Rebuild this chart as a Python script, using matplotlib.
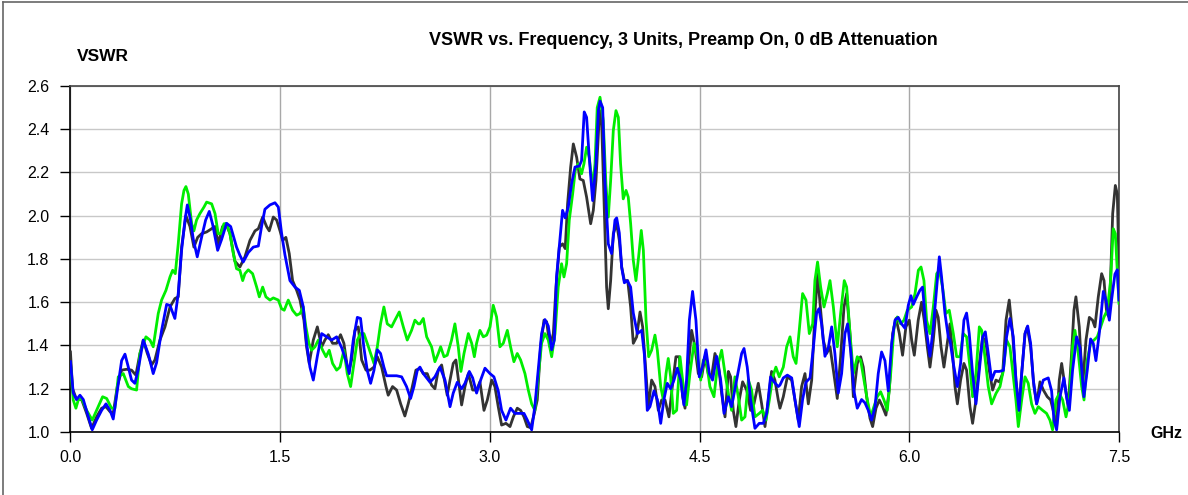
import matplotlib.pyplot as plt
import numpy as np

plt.rcParams['font.family'] = ['Liberation Sans', 'DejaVu Sans']

title = 'VSWR vs. Frequency, 3 Units, Preamp On, 0 dB Attenuation'
x_ticks = [0.0, 1.5, 3.0, 4.5, 6.0, 7.5]
y_ticks = [1.0, 1.2, 1.4, 1.6, 1.8, 2.0, 2.2, 2.4, 2.6]

# unit 1 (dark gray)
f_black = [0.0, 0.015, 0.044, 0.080, 0.116, 0.151, 0.187, 0.223, 0.254, 0.283, 0.306, 0.335, 0.366, 0.402,
           0.437, 0.468, 0.497, 0.521, 0.550, 0.581, 0.604, 0.640, 0.676, 0.712, 0.747, 0.771, 0.795, 0.826,
           0.855, 0.883, 0.910, 0.938, 0.974, 1.010, 1.034, 1.057, 1.088, 1.112, 1.141, 1.176,
           1.212, 1.248, 1.284, 1.320, 1.344, 1.375, 1.403, 1.422, 1.451, 1.475, 1.499, 1.518, 1.541, 1.565,
           1.589, 1.618, 1.642, 1.670, 1.689, 1.708, 1.737, 1.766, 1.797, 1.820, 1.844, 1.875, 1.904, 1.932,
           1.956, 1.987, 2.011, 2.035, 2.059, 2.083, 2.114, 2.142, 2.171, 2.195, 2.226, 2.257, 2.273, 2.304,
           2.333, 2.362, 2.392, 2.416, 2.440, 2.471,
           2.500, 2.524, 2.552, 2.583, 2.607, 2.631, 2.655, 2.679, 2.695, 2.715, 2.738, 2.757, 2.781, 2.798,
           2.822, 2.846, 2.877, 2.905, 2.929, 2.958, 2.982, 3.013, 3.036, 3.060, 3.084, 3.115, 3.144, 3.168,
           3.196, 3.220, 3.244, 3.268, 3.292, 3.315, 3.339, 3.363, 3.387, 3.406, 3.430, 3.454, 3.473, 3.497,
           3.520, 3.539, 3.556, 3.578, 3.597, 3.621, 3.644, 3.668, 3.692, 3.721, 3.740, 3.759, 3.780,
           3.788, 3.800, 3.816, 3.835, 3.847, 3.864, 3.883, 3.907, 3.926, 3.943, 3.962, 3.986, 4.007, 4.026,
           4.050, 4.074, 4.093, 4.117, 4.133, 4.157, 4.181, 4.205, 4.229, 4.253, 4.281, 4.305, 4.331, 4.355,
           4.379, 4.396, 4.419, 4.443, 4.467, 4.491, 4.515, 4.539, 4.562, 4.586, 4.610, 4.634, 4.658, 4.682,
           4.706, 4.722, 4.741, 4.760, 4.784, 4.808, 4.837, 4.865, 4.889, 4.920, 4.944, 4.968, 4.992, 5.015,
           5.039, 5.063,
           5.075, 5.099, 5.128, 5.159, 5.182, 5.206, 5.230, 5.254, 5.278, 5.302, 5.325, 5.344, 5.366, 5.385,
           5.409, 5.433, 5.457, 5.485, 5.509, 5.533, 5.552, 5.576, 5.600, 5.628, 5.652, 5.671, 5.695, 5.719,
           5.738, 5.762, 5.786, 5.809, 5.833, 5.857, 5.881, 5.905, 5.929, 5.952, 5.976, 6.000, 6.017, 6.036,
           6.064, 6.088, 6.107, 6.129, 6.148, 6.172, 6.191, 6.207, 6.227, 6.248, 6.272,
           6.291, 6.310, 6.327, 6.344, 6.367, 6.391, 6.410, 6.434, 6.453, 6.477, 6.501, 6.525, 6.549, 6.572,
           6.596, 6.620, 6.644, 6.668, 6.692, 6.715, 6.739, 6.763, 6.785, 6.804, 6.828, 6.844, 6.868, 6.892,
           6.911, 6.935, 6.959, 6.987, 7.011, 7.035, 7.054, 7.073, 7.090, 7.114, 7.137, 7.161, 7.178, 7.192,
           7.216, 7.240, 7.264, 7.288, 7.311, 7.328, 7.352, 7.376, 7.393, 7.412, 7.431, 7.455, 7.474, 7.488,
           7.497, 7.5]
v_black = [1.37, 1.20, 1.15, 1.15, 1.086, 1.017, 1.07, 1.11, 1.117, 1.094, 1.086, 1.21, 1.286, 1.29,
           1.286, 1.263, 1.363, 1.425, 1.363, 1.31, 1.333, 1.425, 1.486, 1.578, 1.617, 1.625, 1.855, 2.00,
           1.95, 1.855, 1.90, 1.917, 1.925, 1.94, 1.95, 1.87, 1.95, 1.963, 1.917, 1.79,
           1.763, 1.81, 1.886, 1.93, 1.94, 1.994, 1.95, 1.93, 1.994, 1.98, 1.93, 1.886, 1.90, 1.825,
           1.70, 1.655, 1.61, 1.517, 1.394, 1.317, 1.425, 1.486, 1.394, 1.425, 1.45, 1.41, 1.41, 1.45,
           1.41, 1.27, 1.333, 1.47, 1.486, 1.333, 1.286, 1.286, 1.30, 1.348, 1.30, 1.21, 1.17, 1.21,
           1.194, 1.13, 1.074, 1.13, 1.194, 1.286,
           1.294, 1.27, 1.27, 1.217, 1.20, 1.286, 1.31, 1.225, 1.17, 1.24, 1.317, 1.333, 1.21, 1.125,
           1.21, 1.27, 1.194, 1.194, 1.232, 1.10, 1.148, 1.24, 1.21, 1.117, 1.032, 1.04, 1.025, 1.07,
           1.11, 1.10, 1.07, 1.025, 1.02, 1.078, 1.148, 1.394, 1.517, 1.51, 1.394, 1.455, 1.67, 1.855,
           1.87, 1.848, 2.055, 2.225, 2.332, 2.27, 2.17, 2.163, 2.086, 1.963, 2.025, 2.163, 2.425,
           2.486, 2.42, 2.086, 1.67, 1.57, 1.70, 1.917, 1.963, 1.886, 1.763, 1.70, 1.70, 1.578, 1.41,
           1.44, 1.555, 1.486, 1.27, 1.117, 1.24, 1.21, 1.10, 1.148, 1.148, 1.07, 1.21, 1.348, 1.348,
           1.163, 1.11, 1.30, 1.47, 1.394, 1.27, 1.255, 1.348, 1.27, 1.255, 1.363, 1.317, 1.178, 1.07,
           1.28, 1.255, 1.10, 1.025, 1.148, 1.232, 1.194, 1.10, 1.13, 1.225, 1.13, 1.025, 1.148, 1.28,
           1.24, 1.148,
           1.11, 1.163, 1.255, 1.24, 1.148, 1.055, 1.21, 1.27, 1.13, 1.24, 1.55, 1.73, 1.563, 1.425,
           1.363, 1.394, 1.286, 1.155, 1.348, 1.578, 1.64, 1.455, 1.163, 1.317, 1.348, 1.30, 1.163, 1.063,
           1.025, 1.11, 1.148, 1.117, 1.078, 1.194, 1.455, 1.525, 1.455, 1.355, 1.486, 1.517, 1.425, 1.355,
           1.517, 1.60, 1.517, 1.394, 1.30, 1.425, 1.563, 1.53, 1.394, 1.30, 1.41,
           1.50, 1.363, 1.21, 1.13, 1.24, 1.317, 1.286, 1.117, 1.04, 1.148, 1.317, 1.44, 1.41, 1.286,
           1.194, 1.24, 1.232, 1.27, 1.517, 1.61, 1.455, 1.24, 1.10, 1.27, 1.455, 1.486, 1.394, 1.21,
           1.13, 1.232, 1.194, 1.163, 1.148, 1.086, 1.025, 1.24, 1.317, 1.21, 1.117, 1.363, 1.563, 1.625,
           1.486, 1.21, 1.425, 1.53, 1.517, 1.486, 1.625, 1.732, 1.70, 1.55, 1.53, 2.01, 2.14, 2.10,
           1.855, 1.763]

# unit 2 (green)
f_green = [0.0, 0.020, 0.039, 0.056, 0.080, 0.116, 0.156, 0.187, 0.230, 0.259, 0.294, 0.318, 0.342, 0.378,
           0.414, 0.437, 0.473, 0.497, 0.540, 0.569, 0.592, 0.628, 0.652, 0.683, 0.712, 0.731, 0.750, 0.771,
           0.795, 0.812, 0.826, 0.843, 0.867, 0.883, 0.902, 0.926, 0.955, 0.974, 1.010, 1.034, 1.057, 1.076,
           1.098, 1.117, 1.141, 1.165, 1.188,
           1.212, 1.232, 1.248, 1.272, 1.303, 1.332, 1.351, 1.375, 1.398, 1.427, 1.451, 1.487, 1.510, 1.529,
           1.558, 1.589, 1.618, 1.642, 1.665, 1.684, 1.706, 1.725, 1.749, 1.773, 1.804, 1.828, 1.851, 1.875,
           1.904, 1.928, 1.956, 1.980, 2.004, 2.028, 2.052, 2.075, 2.099, 2.123, 2.147, 2.171, 2.195, 2.218,
           2.242, 2.266, 2.297, 2.321, 2.352, 2.381, 2.409, 2.440, 2.464, 2.488,
           2.500, 2.524, 2.548, 2.583, 2.607, 2.631, 2.648, 2.672, 2.695, 2.726, 2.750, 2.774, 2.793, 2.815,
           2.846, 2.870, 2.889, 2.905, 2.929, 2.953, 2.977, 3.001, 3.024, 3.048, 3.072, 3.096, 3.125, 3.148,
           3.172, 3.196, 3.220, 3.251, 3.275, 3.299, 3.322, 3.346, 3.370, 3.394, 3.418, 3.442, 3.466, 3.489,
           3.513, 3.530, 3.549, 3.568, 3.592, 3.611, 3.632, 3.656, 3.673, 3.692, 3.711, 3.735, 3.752, 3.768,
           3.788, 3.811, 3.830, 3.847, 3.864, 3.883, 3.902, 3.919, 3.935, 3.954, 3.974, 3.990, 4.007, 4.026,
           4.045, 4.064, 4.083, 4.098, 4.117, 4.136, 4.157, 4.181, 4.198, 4.222, 4.241, 4.260, 4.276, 4.293,
           4.312, 4.336, 4.360, 4.384, 4.407, 4.431, 4.460, 4.484, 4.508, 4.527, 4.551, 4.574, 4.603, 4.627,
           4.658, 4.682, 4.706, 4.729, 4.753, 4.777, 4.801, 4.825, 4.849, 4.872, 4.896, 4.927, 4.951, 4.975,
           4.999, 5.023, 5.046, 5.070,
           5.099, 5.123, 5.147, 5.170, 5.190, 5.213, 5.237, 5.261, 5.285, 5.309, 5.325, 5.344, 5.366,
           5.390, 5.414, 5.433, 5.457, 5.485, 5.509, 5.535, 5.552, 5.576, 5.600, 5.628, 5.652, 5.676, 5.700,
           5.724, 5.747, 5.771, 5.795, 5.819, 5.843, 5.867, 5.891, 5.914, 5.938, 5.962, 5.986, 6.017, 6.041,
           6.065, 6.084, 6.105, 6.124, 6.148, 6.172, 6.196, 6.215, 6.238, 6.262, 6.286,
           6.315, 6.339, 6.363, 6.386, 6.410, 6.434, 6.453, 6.477, 6.501, 6.518, 6.541, 6.565, 6.589,
           6.620, 6.649, 6.673, 6.696, 6.720, 6.744, 6.763, 6.780, 6.804, 6.828, 6.851, 6.875, 6.899, 6.923,
           6.954, 6.982, 7.006, 7.025, 7.049, 7.073, 7.097, 7.121, 7.145, 7.168, 7.185, 7.209, 7.233, 7.250,
           7.273, 7.297, 7.321, 7.345, 7.369, 7.393, 7.416, 7.440, 7.459, 7.474, 7.488, 7.5]
v_green = [1.317, 1.148, 1.11, 1.148, 1.155, 1.10, 1.055, 1.10, 1.163, 1.155, 1.11, 1.11, 1.255, 1.27,
           1.21, 1.20, 1.194, 1.363, 1.44, 1.425, 1.394, 1.548, 1.61, 1.655, 1.717, 1.748, 1.732, 1.87,
           2.055, 2.117, 2.135, 2.10, 1.963, 1.93, 1.98, 2.01, 2.04, 2.063, 2.055, 2.01, 1.917, 1.917,
           1.963, 1.963, 1.917, 1.825, 1.755,
           1.748, 1.70, 1.732, 1.75, 1.732, 1.67, 1.625, 1.67, 1.625, 1.61, 1.62, 1.61, 1.57, 1.563,
           1.61, 1.563, 1.54, 1.548, 1.578, 1.486, 1.41, 1.378, 1.394, 1.425, 1.378, 1.348, 1.378, 1.317,
           1.286, 1.30, 1.378, 1.27, 1.21, 1.317, 1.425, 1.455, 1.455, 1.41, 1.363, 1.317, 1.394, 1.50,
           1.578, 1.50, 1.486, 1.517, 1.555, 1.486, 1.425, 1.47, 1.517, 1.50,
           1.50, 1.525, 1.44, 1.394, 1.325, 1.363, 1.394, 1.348, 1.355, 1.425, 1.50, 1.394, 1.28, 1.363,
           1.455, 1.41, 1.348, 1.41, 1.47, 1.44, 1.448, 1.486, 1.586, 1.532, 1.394, 1.41, 1.47, 1.394,
           1.325, 1.363, 1.333, 1.27, 1.194, 1.13, 1.10, 1.255, 1.41, 1.455, 1.425, 1.348, 1.455, 1.67,
           1.778, 1.717, 1.778, 1.98, 2.10, 2.21, 2.24, 2.194, 2.24, 2.317, 2.27, 2.13, 2.24, 2.50,
           2.548, 2.44, 2.148, 1.994, 2.163, 2.394, 2.486, 2.455, 2.24, 2.078, 2.117, 2.086, 1.963, 1.794,
           1.70, 1.81, 1.932, 1.84, 1.517, 1.348, 1.378, 1.448, 1.378, 1.21, 1.148, 1.27, 1.34, 1.255,
           1.086, 1.10, 1.348, 1.21, 1.125, 1.27, 1.41, 1.348, 1.24, 1.333, 1.317, 1.21, 1.163, 1.30,
           1.378, 1.27, 1.178, 1.10, 1.255, 1.163, 1.055, 1.07, 1.24, 1.194, 1.07, 1.086, 1.10, 1.055,
           1.148, 1.255, 1.30, 1.255,
           1.30, 1.394, 1.44, 1.348, 1.317, 1.47, 1.64, 1.61, 1.455, 1.50, 1.70, 1.786, 1.67,
           1.578, 1.64, 1.70, 1.578, 1.394, 1.548, 1.70, 1.67, 1.455, 1.27, 1.348, 1.333, 1.24, 1.148,
           1.07, 1.117, 1.163, 1.186, 1.148, 1.10, 1.27, 1.486, 1.532, 1.50, 1.517, 1.563, 1.578, 1.64,
           1.748, 1.763, 1.70, 1.517, 1.455, 1.578, 1.732, 1.748, 1.67, 1.548, 1.563,
           1.455, 1.348, 1.348, 1.455, 1.44, 1.30, 1.163, 1.27, 1.486, 1.47, 1.348, 1.21, 1.13,
           1.178, 1.21, 1.286, 1.425, 1.394, 1.255, 1.148, 1.025, 1.148, 1.255, 1.225, 1.13, 1.086, 1.117,
           1.10, 1.086, 1.055, 1.01, 1.148, 1.178, 1.148, 1.07, 1.148, 1.394, 1.47, 1.363, 1.21, 1.148,
           1.333, 1.41, 1.425, 1.44, 1.486, 1.532, 1.563, 1.70, 1.94, 1.917, 1.74, 1.595]

# unit 3 (blue)
f_blue = [0.0, 0.020, 0.044, 0.068, 0.092, 0.128, 0.156, 0.187, 0.223, 0.254, 0.283, 0.306, 0.335, 0.366,
          0.390, 0.414, 0.437, 0.461, 0.485, 0.521, 0.557, 0.592, 0.616, 0.652, 0.688, 0.712, 0.747, 0.771,
          0.795, 0.819, 0.836, 0.859, 0.879, 0.907, 0.938, 0.967, 0.993, 1.017, 1.053, 1.081, 1.117, 1.146,
          1.188,
          1.212, 1.236, 1.272, 1.308, 1.344, 1.367, 1.391, 1.427, 1.463, 1.487, 1.510, 1.534, 1.570, 1.606,
          1.637, 1.665, 1.689, 1.713, 1.737, 1.766, 1.797, 1.832, 1.868, 1.904, 1.940, 1.971, 1.994, 2.023,
          2.052, 2.075, 2.099, 2.123, 2.147, 2.171, 2.195, 2.218, 2.242, 2.261, 2.297, 2.333, 2.369, 2.404,
          2.433, 2.457, 2.481,
          2.500, 2.524, 2.572, 2.607, 2.643, 2.679, 2.715, 2.738, 2.767, 2.798, 2.822, 2.853, 2.877, 2.905,
          2.934, 2.965, 3.001, 3.029, 3.060, 3.084, 3.115, 3.148, 3.179, 3.210, 3.244, 3.268, 3.299, 3.322,
          3.346, 3.370, 3.394, 3.418, 3.442, 3.461, 3.477, 3.501, 3.520, 3.539, 3.561, 3.585, 3.609, 3.640,
          3.656, 3.675, 3.692, 3.711, 3.735, 3.759, 3.776,
          3.788, 3.807, 3.823, 3.847, 3.871, 3.895, 3.907, 3.926, 3.943, 3.962, 3.983, 4.007, 4.026, 4.055,
          4.086, 4.105, 4.126, 4.145, 4.174, 4.198, 4.222, 4.245, 4.269, 4.293, 4.317, 4.341, 4.365, 4.388,
          4.407, 4.427, 4.450, 4.474, 4.498, 4.520, 4.546, 4.570, 4.593, 4.622, 4.651, 4.675, 4.706, 4.729,
          4.765, 4.801, 4.818, 4.841, 4.865, 4.896, 4.927, 4.956, 4.980, 5.008, 5.032, 5.063,
          5.075, 5.099, 5.128, 5.159, 5.182, 5.213, 5.237, 5.261, 5.290, 5.314, 5.337, 5.354, 5.373, 5.397,
          5.421, 5.445, 5.468, 5.492, 5.516, 5.540, 5.559, 5.583, 5.604, 5.628, 5.659, 5.683, 5.707, 5.731,
          5.755, 5.778, 5.802, 5.826, 5.850, 5.874, 5.898, 5.921, 5.945, 5.969, 5.993, 6.012, 6.029, 6.053,
          6.076, 6.095, 6.119, 6.148, 6.172, 6.196, 6.215, 6.231, 6.255, 6.279,
          6.291, 6.315, 6.344, 6.367, 6.391, 6.410, 6.429, 6.453, 6.477, 6.501, 6.525, 6.544, 6.565, 6.589,
          6.613, 6.644, 6.673, 6.696, 6.720, 6.744, 6.763, 6.785, 6.804, 6.828, 6.847, 6.868, 6.887, 6.911,
          6.935, 6.959, 6.994, 7.018, 7.035, 7.054, 7.078, 7.106, 7.125, 7.145, 7.168, 7.197, 7.221, 7.249,
          7.273, 7.297, 7.316, 7.335, 7.359, 7.388, 7.407, 7.431, 7.447, 7.471, 7.488, 7.5]
v_blue = [1.325, 1.18, 1.15, 1.17, 1.15, 1.07, 1.01, 1.055, 1.10, 1.13, 1.10, 1.06, 1.19, 1.33,
          1.36, 1.30, 1.24, 1.225, 1.29, 1.425, 1.36, 1.27, 1.32, 1.47, 1.59, 1.585, 1.525, 1.64,
          1.84, 1.98, 2.05, 1.98, 1.89, 1.81, 1.90, 1.98, 2.02, 1.96, 1.84, 1.89, 1.965, 1.95,
          1.855,
          1.817, 1.786, 1.83, 1.855, 1.86, 1.95, 2.03, 2.05, 2.06, 2.04, 1.92, 1.82, 1.70, 1.67,
          1.655, 1.58, 1.41, 1.30, 1.24, 1.35, 1.455, 1.44, 1.425, 1.44, 1.39, 1.33, 1.27, 1.425,
          1.53, 1.525, 1.39, 1.285, 1.225, 1.285, 1.38, 1.363, 1.30, 1.26, 1.26, 1.26, 1.255, 1.21,
          1.155, 1.21, 1.285,
          1.30, 1.27, 1.23, 1.255, 1.30, 1.24, 1.117, 1.18, 1.23, 1.20, 1.225, 1.28, 1.25, 1.18,
          1.24, 1.295, 1.27, 1.255, 1.19, 1.10, 1.055, 1.11, 1.086, 1.086, 1.086, 1.055, 1.01, 1.12,
          1.285, 1.455, 1.52, 1.49, 1.38, 1.425, 1.717, 1.886, 2.025, 1.99, 2.04, 2.15, 2.225, 2.23,
          2.255, 2.48, 2.455, 2.27, 2.07, 2.24, 2.486,
          2.53, 2.50, 2.16, 1.87, 1.825, 1.98, 1.99, 1.92, 1.76, 1.69, 1.70, 1.67, 1.55, 1.455,
          1.47, 1.36, 1.10, 1.117, 1.19, 1.15, 1.04, 1.15, 1.225, 1.20, 1.24, 1.295, 1.24, 1.125,
          1.24, 1.517, 1.65, 1.517, 1.255, 1.30, 1.38, 1.27, 1.24, 1.35, 1.24, 1.086, 1.163, 1.117,
          1.24, 1.363, 1.386, 1.30, 1.15, 1.017, 1.04, 1.04, 1.086, 1.255, 1.232, 1.21,
          1.217, 1.25, 1.263, 1.25, 1.15, 1.025, 1.15, 1.23, 1.25, 1.39, 1.55, 1.57, 1.50, 1.35,
          1.39, 1.486, 1.363, 1.18, 1.27, 1.455, 1.50, 1.363, 1.19, 1.11, 1.15, 1.135, 1.10, 1.055,
          1.117, 1.27, 1.37, 1.33, 1.19, 1.41, 1.517, 1.53, 1.50, 1.48, 1.586, 1.63, 1.59, 1.625,
          1.655, 1.67, 1.486, 1.35, 1.486, 1.67, 1.81, 1.717, 1.55, 1.44,
          1.425, 1.317, 1.21, 1.317, 1.517, 1.55, 1.455, 1.27, 1.13, 1.285, 1.44, 1.463, 1.363, 1.24,
          1.28, 1.28, 1.285, 1.44, 1.525, 1.44, 1.24, 1.10, 1.27, 1.455, 1.49, 1.41, 1.24, 1.13,
          1.19, 1.24, 1.25, 1.19, 1.055, 1.01, 1.163, 1.25, 1.163, 1.10, 1.285, 1.44, 1.39, 1.163,
          1.285, 1.43, 1.41, 1.33, 1.455, 1.65, 1.61, 1.517, 1.61, 1.73, 1.75, 1.61]

fig = plt.figure(figsize=(11.88, 4.95), dpi=100)
ax = fig.add_axes([0.0593, 0.1273, 0.8826, 0.6990])

ax.plot(f_black, v_black, color='#333333', lw=2.0, zorder=3)
ax.plot(f_green, v_green, color='#00ee00', lw=2.0, zorder=3)
ax.plot(f_blue, v_blue, color='#0000ff', lw=2.0, zorder=4)

ax.set_xlim(0, 7.5)
ax.set_ylim(1.0, 2.6)
ax.set_xticks(x_ticks)
ax.set_xticklabels([f'{t:.1f}' for t in x_ticks])
ax.set_yticks(y_ticks)
ax.set_yticklabels([f'{t:.1f}' for t in y_ticks])
ax.tick_params(axis='both', labelsize=11.5, colors='black', length=7, width=1, direction='out')
ax.tick_params(axis='y', pad=8)
ax.tick_params(axis='x', pad=6)
ax.grid(axis='y', color='#c8c8c8', lw=1)
ax.grid(axis='x', color='#a8a8a8', lw=1)
ax.set_axisbelow(True)
for s in ['left', 'bottom']:
    ax.spines[s].set_color('black')
    ax.spines[s].set_linewidth(1.2)
for s in ['top', 'right']:
    ax.spines[s].set_color('#444444')
    ax.spines[s].set_linewidth(1.2)

fig.text(0.575, 0.919, title, ha='center', va='center', fontsize=13, fontweight='bold')
fig.text(0.0648, 0.885, 'VSWR', ha='left', va='center', fontsize=12.5, fontweight='bold')
fig.text(0.968, 0.125, 'GHz', ha='left', va='center', fontsize=11.5, fontweight='bold')

# frame lines on the top and left edges of the picture
fig.add_artist(plt.Line2D([0.0025, 0.0025], [0.0, 0.995], transform=fig.transFigure, color='#666666', lw=1.2))
fig.add_artist(plt.Line2D([0.0025, 1.0], [0.995, 0.995], transform=fig.transFigure, color='#666666', lw=1.2))

fig.savefig('out.png', dpi=100)
